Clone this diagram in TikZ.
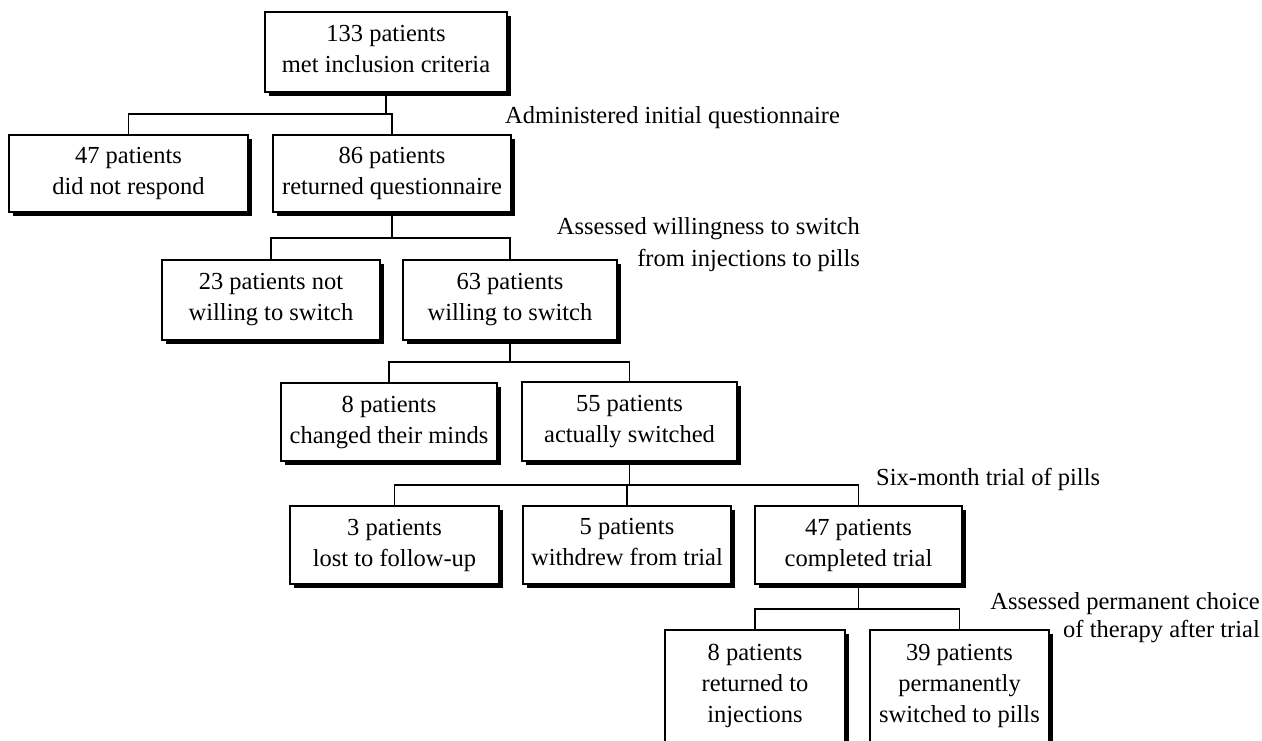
\documentclass[tikz,border=0pt]{standalone}
\usepackage{fontspec}
\setmainfont{Liberation Serif}
\usetikzlibrary{shadows}
\begin{document}
\begin{tikzpicture}[x=1pt,y=-1pt,
  box/.style={draw=black, line width=1.2pt, fill=white, align=center, inner sep=0pt,
    font=\fontsize{24.5}{31}\selectfont,
    drop shadow={shadow xshift=3.5pt, shadow yshift=-3.5pt, fill=black, opacity=1}},
  lbl/.style={inner sep=0pt, font=\fontsize{24.5}{30}\selectfont},
  conn/.style={draw=black, line width=1.2pt}]
\useasboundingbox (0,0) rectangle (1262,740);

% boxes
\node[box, minimum width=242pt, minimum height=80pt] (n133) at (386,52) {133 patients\\met inclusion criteria\vphantom{y}};
\node[box, minimum width=239pt, minimum height=77pt] (n47) at (128.5,173.5) {47 patients\\did not respond};
\node[box, minimum width=238pt, minimum height=77pt] (n86) at (392,173.5) {86 patients\\returned questionnaire};
\node[box, minimum width=218pt, minimum height=80pt] (n23) at (271,300) {23 patients not\\willing to switch};
\node[box, minimum width=214pt, minimum height=80pt] (n63) at (510,300) {63 patients\\willing to switch};
\node[box, minimum width=216pt, minimum height=78pt] (n8c) at (389,422) {8 patients\\changed their minds};
\node[box, minimum width=215pt, minimum height=79pt] (n55) at (629.5,421.5) {55 patients\\actually switched};
\node[box, minimum width=209pt, minimum height=78pt] (n3) at (394.5,545) {3 patients\\lost to follow-up};
\node[box, minimum width=208pt, minimum height=78pt] (n5) at (627,545) {5 patients\\withdrew from trial\vphantom{y}};
\node[box, minimum width=207pt, minimum height=78pt] (n47c) at (858.5,545) {47 patients\\completed trial};
\node[box, minimum width=180pt, minimum height=112pt] (n8r) at (755,686) {8 patients\\returned to\\injections};
\node[box, minimum width=179pt, minimum height=112pt] (n39) at (959.5,686) {39 patients\\permanently\\switched to pills};

% bus levels
\coordinate (b1) at (0,114);
\coordinate (b2) at (0,238);
\coordinate (b3) at (0,362);
\coordinate (b4) at (0,485);
\coordinate (b5) at (0,609);

% connectors
\draw[conn] (n133.south) -- (n133.south |- b1);
\draw[conn] (n47.north) |- (n86.north |- b1) -- (n86.north);
\draw[conn] (n86.south) -- (n86.south |- b2);
\draw[conn] (n23.north) |- (n63.north |- b2) -- (n63.north);
\draw[conn] (n63.south) -- (n63.south |- b3);
\draw[conn] (n8c.north) |- (n55.north |- b3) -- (n55.north);
\draw[conn] (n55.south) -- (n55.south |- b4);
\draw[conn] (n3.north) |- (n47c.north |- b4) -- (n47c.north);
\draw[conn] (n5.north) -- (n5.north |- b4);
\draw[conn] (n47c.south) -- (n47c.south |- b5);
\draw[conn] (n8r.north) |- (n39.north |- b5) -- (n39.north);

% labels
\node[lbl, anchor=base west] (l1) at (505,123) {Administered initial questionnaire};
\node[lbl, anchor=base east] (l2a) at (860,234) {Assessed willingness to switch};
\node[lbl, anchor=base east] (l2b) at (860,266) {from injections to pills};
\node[lbl, anchor=base west] (l3) at (876,485) {Six-month trial of pills};
\node[lbl, anchor=base east] (l4a) at (1260,609) {Assessed permanent choice};
\node[lbl, anchor=base east] (l4b) at (1260,637) {of therapy after trial};
\end{tikzpicture}
\end{document}
